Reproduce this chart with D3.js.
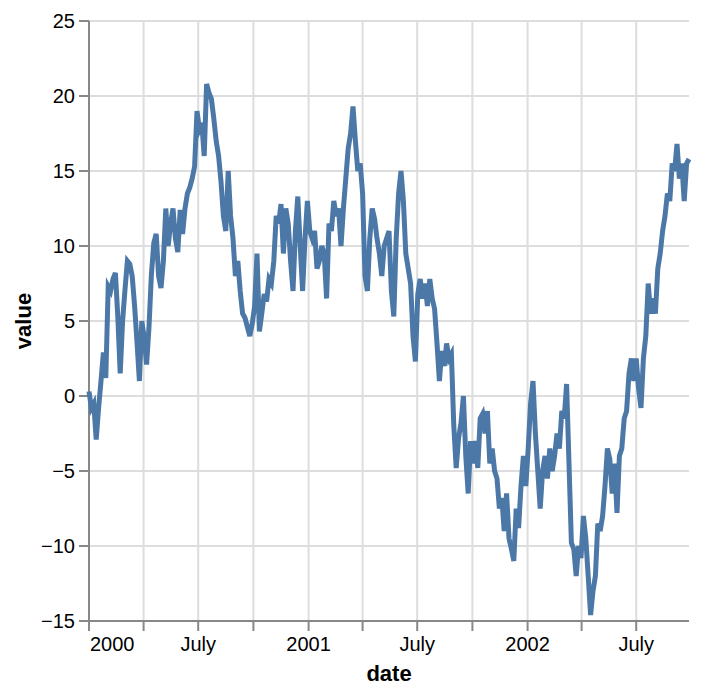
<!DOCTYPE html>
<html>
<head>
<meta charset="utf-8">
<script src="https://cdn.jsdelivr.net/npm/d3@7"></script>
<style>
  html, body { margin: 0; padding: 0; background: #fff; }
  text { font-family: "Liberation Sans", Arial, sans-serif; }
</style>
</head>
<body>
<svg id="chart" width="702" height="694"></svg>
<script>
// ---- data ----
const startDate = "2000-01-01";
const stepDays = 4;
const values = [
  0.3,-0.8,-0.5,-2.9,-0.8,1.0,2.9,1.2,7.3,7.0,
  7.8,8.2,5.3,1.5,5.0,7.1,9.0,8.8,8.0,6.0,
  3.6,1.0,5.0,3.9,2.1,4.6,8.1,10.2,10.8,8.0,
  7.2,9.0,12.5,10.0,11.5,12.5,10.5,9.6,12.4,10.8,
  12.5,13.5,13.9,14.5,15.3,19.0,17.8,18.2,16.0,20.8,
  20.2,19.8,18.5,17.0,16.0,14.3,12.0,11.0,15.0,12.0,
  10.5,8.0,9.0,7.0,5.5,5.2,4.6,4.0,4.8,6.0,
  9.5,4.3,5.5,6.8,6.3,7.8,7.5,9.0,12.0,11.5,
  12.8,9.5,12.5,11.5,9.0,7.0,11.0,13.3,10.0,7.0,
  10.5,13.0,11.0,10.5,11.0,8.5,9.0,10.0,9.5,6.5,
  11.5,11.0,13.0,12.0,12.5,10.0,12.5,14.5,16.5,17.5,
  19.3,17.0,15.0,15.5,13.5,8.0,7.0,10.5,12.5,11.8,
  10.5,9.5,8.0,10.0,10.5,11.0,7.0,5.3,10.5,13.5,
  15.0,13.0,9.5,8.5,7.5,4.0,2.3,6.8,7.8,6.5,
  7.5,6.0,7.8,6.5,5.8,3.5,1.0,3.0,2.0,3.5,
  2.5,2.8,-2.0,-4.8,-2.8,-1.8,0.0,-4.0,-6.5,-3.0,
  -4.5,-3.0,-4.8,-1.5,-1.2,-2.5,-1.0,-4.5,-3.5,-5.0,
  -5.5,-7.5,-6.8,-9.0,-6.5,-9.5,-10.2,-11.0,-7.5,-8.8,
  -6.0,-4.0,-6.0,-3.5,-0.5,1.0,-2.5,-5.0,-7.5,-5.0,
  -4.0,-5.5,-3.5,-5.0,-4.0,-2.5,-3.5,-1.0,-1.5,0.8,
  -4.5,-9.8,-10.2,-12.0,-10.0,-10.8,-8.0,-9.5,-12.0,-14.6,
  -13.0,-12.0,-8.5,-9.0,-8.0,-6.0,-3.5,-4.2,-6.5,-4.5,
  -7.8,-4.0,-3.5,-1.5,-1.0,1.5,2.5,1.0,2.5,0.5,
  -0.8,2.5,4.0,7.5,5.5,6.5,5.5,8.5,9.5,11.0,
  12.0,13.5,13.0,15.5,15.0,16.8,14.5,15.5,13.0,15.5,
  15.8
];
const yTicks = [-15, -10, -5, 0, 5, 10, 15, 20, 25];
const xTickDates = ["2000-01-01","2000-04-01","2000-07-01","2000-10-01",
                    "2001-01-01","2001-04-01","2001-07-01","2001-10-01",
                    "2002-01-01","2002-04-01","2002-07-01"];
const xTickLabels = ["2000","","July","","2001","","July","","2002","","July"];
const xTitle = "date";
const yTitle = "value";

// ---- layout ----
const margin = {left: 89, top: 21};
const W = 600, H = 600;
const lineColor = "#4c78a8";

const parse = d3.utcParse("%Y-%m-%d");
const start = parse(startDate);
const data = values.map((v, i) => ({date: d3.utcDay.offset(start, i * stepDays), value: v}));

const x = d3.scaleUtc().domain(d3.extent(data, d => d.date)).range([0, W]);
const y = d3.scaleLinear().domain([-15, 25]).range([H, 0]);

const svg = d3.select("#chart");
svg.append("rect").attr("width", 702).attr("height", 694).attr("fill", "#fff");
const g = svg.append("g").attr("transform", `translate(${margin.left},${margin.top})`);

const xDates = xTickDates.map(parse);

// grid
g.append("g").selectAll("line").data(xDates).join("line")
  .attr("x1", d => x(d)).attr("x2", d => x(d)).attr("y1", 0).attr("y2", H)
  .attr("stroke", "#ddd").attr("stroke-width", 2);
g.append("g").selectAll("line").data(yTicks).join("line")
  .attr("x1", 0).attr("x2", W).attr("y1", d => y(d)).attr("y2", d => y(d))
  .attr("stroke", "#ddd").attr("stroke-width", 2);

// x axis
const xAxis = g.append("g").attr("transform", `translate(0,${H})`);
xAxis.append("line").attr("x1", 0).attr("x2", W).attr("stroke", "#888").attr("stroke-width", 2);
xAxis.selectAll("line.tick").data(xDates).join("line").attr("class", "tick")
  .attr("x1", d => x(d)).attr("x2", d => x(d)).attr("y1", 0).attr("y2", 10)
  .attr("stroke", "#888").attr("stroke-width", 2);
xAxis.selectAll("text.lab").data(xDates).join("text").attr("class", "lab")
  .attr("x", d => x(d) + (x(d) < 1 ? 1 : 0))
  .attr("y", 30)
  .attr("text-anchor", d => x(d) < 1 ? "start" : "middle")
  .attr("font-size", 20).attr("fill", "#000")
  .text((d, i) => xTickLabels[i]);
xAxis.append("text").attr("x", W / 2).attr("y", 60)
  .attr("text-anchor", "middle").attr("font-size", 22).attr("font-weight", "bold")
  .text(xTitle);

// y axis
const yAxis = g.append("g");
yAxis.append("line").attr("y1", 0).attr("y2", H).attr("stroke", "#888").attr("stroke-width", 2);
yAxis.selectAll("line.tick").data(yTicks).join("line").attr("class", "tick")
  .attr("x1", -10).attr("x2", 0).attr("y1", d => y(d)).attr("y2", d => y(d))
  .attr("stroke", "#888").attr("stroke-width", 2);
yAxis.selectAll("text.lab").data(yTicks).join("text").attr("class", "lab")
  .attr("x", -14).attr("y", d => y(d)).attr("dy", "0.35em")
  .attr("text-anchor", "end").attr("font-size", 20).attr("fill", "#000")
  .text(d => d < 0 ? "\u2212" + Math.abs(d) : String(d));
yAxis.append("text")
  .attr("transform", `translate(${31 - margin.left},${H / 2}) rotate(-90)`)
  .attr("text-anchor", "middle").attr("font-size", 22).attr("font-weight", "bold")
  .text(yTitle);

// line
const line = d3.line().x(d => x(d.date)).y(d => y(d.value));
g.append("path").datum(data).attr("d", line)
  .attr("fill", "none").attr("stroke", lineColor).attr("stroke-width", 5)
  .attr("stroke-linejoin", "miter").attr("stroke-miterlimit", 4);
</script>
</body>
</html>
